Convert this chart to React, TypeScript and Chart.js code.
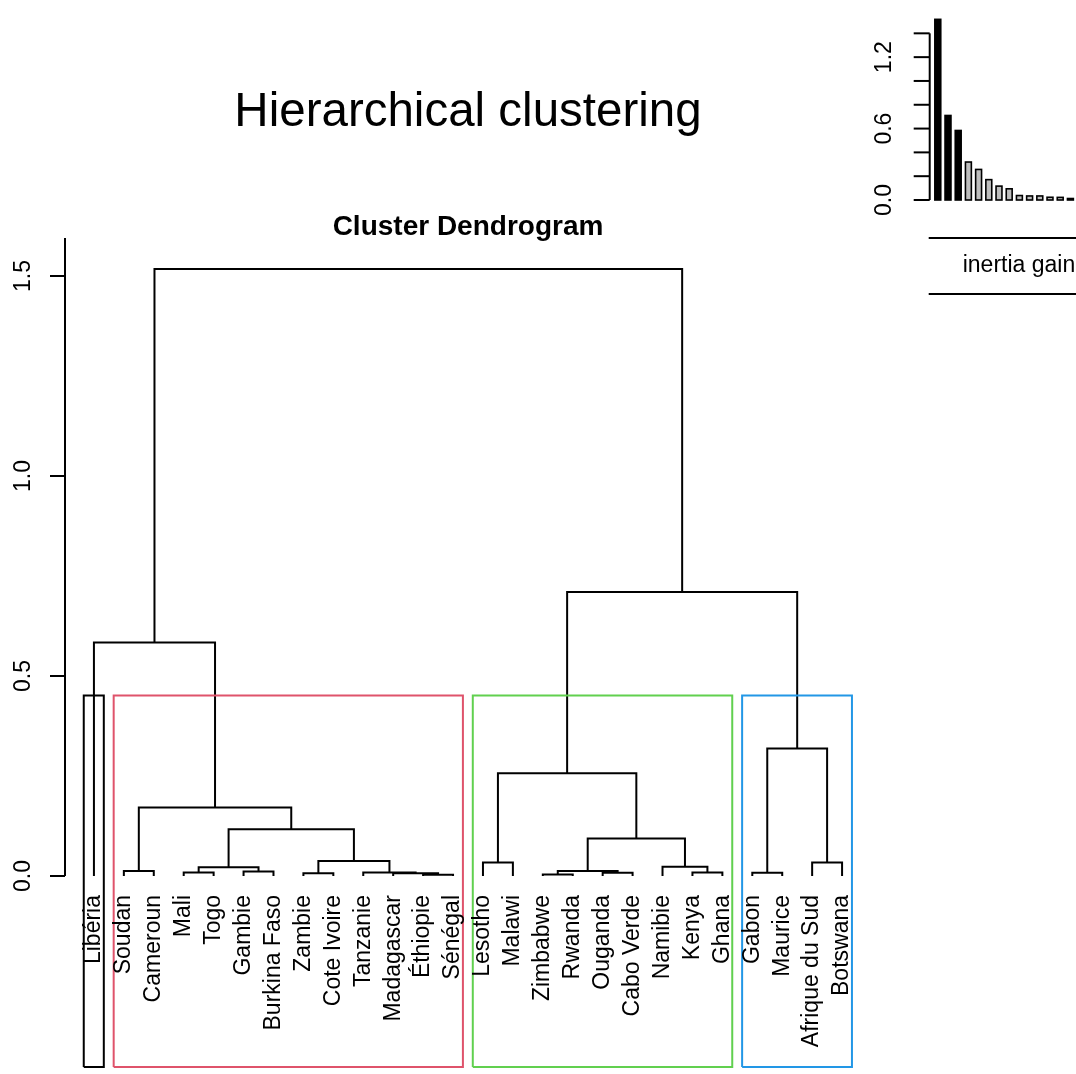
import React, { useEffect, useRef } from "react";
import { Chart, registerables } from "chart.js";

Chart.register(...registerables);

// ---------- data ----------
const leafLabels = [
  "Libéria", "Soudan", "Cameroun", "Mali", "Togo", "Gambie", "Burkina Faso",
  "Zambie", "Cote Ivoire", "Tanzanie", "Madagascar", "Éthiopie", "Sénégal",
  "Lesotho", "Malawi", "Zimbabwe", "Rwanda", "Ouganda", "Cabo Verde",
  "Namibie", "Kenya", "Ghana", "Gabon", "Maurice", "Afrique du Sud", "Botswana",
];

// R-style merge table: negative = leaf (1-based), positive = earlier merge (1-based)
const mergeLeft = [-12, -16, -11, -8, -18, -23, -4, -21, -10, -6, -2, 2, 7, -20, -14, -25, 4, 12, 13, 11, 15, 6, -1, 21, 23];
const mergeRight = [-13, -17, 1, -9, -19, -24, -5, -22, 3, -7, -3, 5, 10, 8, -15, -26, 9, 14, 17, 19, 18, 16, 20, 22, 24];
const mergeHeight = [
  0.003, 0.004, 0.0068, 0.0067, 0.008, 0.008, 0.0085, 0.009, 0.009, 0.011,
  0.0125, 0.0125, 0.022, 0.023, 0.034, 0.034, 0.0375, 0.094, 0.1167, 0.171,
  0.2567, 0.319, 0.584, 0.71, 1.5175,
];

const clusterFirstLeaf = [1, 2, 14, 23];
const clusterLastLeaf = [1, 13, 22, 26];
const clusterColors = ["#000000", "#DF536B", "#61D04F", "#2297E6"];

const yTicks = [0, 0.5, 1.0, 1.5];
const yTickLabels = ["0.0", "0.5", "1.0", "1.5"];

const inertiaGain = [
  1.5175, 0.71, 0.584, 0.319, 0.2567, 0.171, 0.1167, 0.094, 0.0375, 0.034,
  0.034, 0.023, 0.022, 0.0125, 0.0125, 0.011, 0.009, 0.009, 0.0085, 0.008,
  0.008, 0.0068, 0.0067, 0.004, 0.003,
];
const gainTicks = [0, 0.2, 0.4, 0.6, 0.8, 1.0, 1.2, 1.4];
const gainLabelValues = [0, 0.6, 1.2];
const gainLabelTexts = ["0.0", "0.6", "1.2"];

const mainTitle = "Hierarchical clustering";
const subTitle = "Cluster Dendrogram";
const gainTitle = "inertia gain";

// ---------- derived ----------
const mergeX: number[] = [];
function nodeOf(ref: number) {
  if (ref < 0) return { x: -ref, h: 0 };
  return { x: mergeX[ref - 1], h: mergeHeight[ref - 1] };
}
for (let m = 0; m < mergeHeight.length; m++) {
  const a = nodeOf(mergeLeft[m]);
  const b = nodeOf(mergeRight[m]);
  mergeX[m] = (a.x + b.x) / 2;
}

const Y_MIN = -0.4775;
const Y_MAX = 1.595;
const FONT = "'Liberation Sans', Arial, sans-serif";

export default function App() {
  const mainRef = useRef<HTMLCanvasElement>(null);
  const insetRef = useRef<HTMLCanvasElement>(null);

  useEffect(() => {
    const nClusters = clusterFirstLeaf.length;
    const sorted = [...mergeHeight].sort((a, b) => b - a);
    const rectTop = (sorted[nClusters - 2] + sorted[nClusters - 1]) / 2;

    const rectSets = clusterFirstLeaf.map((first, i) => {
      const l = first - 0.34;
      const r = clusterLastLeaf[i] + 0.33;
      return {
        data: [
          { x: l, y: Y_MIN }, { x: l, y: rectTop }, { x: r, y: rectTop },
          { x: r, y: Y_MIN }, { x: l, y: Y_MIN },
        ],
        borderColor: clusterColors[i],
        borderWidth: 2,
        showLine: true,
        pointRadius: 0,
        fill: false,
        clip: false as any,
      };
    });

    const mergeSets = mergeHeight.map((h, m) => {
      const a = nodeOf(mergeLeft[m]);
      const b = nodeOf(mergeRight[m]);
      return {
        data: [
          { x: a.x, y: a.h }, { x: a.x, y: h }, { x: b.x, y: h }, { x: b.x, y: b.h },
        ],
        borderColor: "#000000",
        borderWidth: 2,
        showLine: true,
        pointRadius: 0,
        fill: false,
        clip: false as any,
      };
    });

    const mainDecor = {
      id: "mainDecor",
      afterDatasetsDraw(chart: any) {
        const ctx = chart.ctx as CanvasRenderingContext2D;
        const xs = chart.scales.x;
        const ys = chart.scales.y;
        const area = chart.chartArea;
        ctx.save();
        ctx.fillStyle = "#000";
        ctx.strokeStyle = "#000";
        // leaf labels
        ctx.font = `23px ${FONT}`;
        const y0 = ys.getPixelForValue(0);
        leafLabels.forEach((lab, i) => {
          const px = xs.getPixelForValue(i + 1);
          ctx.save();
          ctx.translate(px, y0 + 19);
          ctx.rotate(-Math.PI / 2);
          ctx.textAlign = "right";
          ctx.textBaseline = "middle";
          ctx.fillText(lab, 0, 0);
          ctx.restore();
        });
        // y axis
        const ax = area.left + 1;
        ctx.lineWidth = 2;
        ctx.beginPath();
        ctx.moveTo(ax, ys.getPixelForValue(0));
        ctx.lineTo(ax, ys.getPixelForValue(Y_MAX));
        ctx.stroke();
        yTicks.forEach((t, i) => {
          const py = ys.getPixelForValue(t);
          ctx.beginPath();
          ctx.moveTo(ax - 15, py);
          ctx.lineTo(ax, py);
          ctx.stroke();
          ctx.save();
          ctx.translate(ax - 41, py);
          ctx.rotate(-Math.PI / 2);
          ctx.textAlign = "center";
          ctx.textBaseline = "middle";
          ctx.fillText(yTickLabels[i], 0, 0);
          ctx.restore();
        });
        // titles
        const cx = (area.left + area.right) / 2;
        ctx.textAlign = "center";
        ctx.textBaseline = "alphabetic";
        ctx.font = `47.5px ${FONT}`;
        ctx.fillText(mainTitle, cx, area.top - 112);
        ctx.font = `bold 28px ${FONT}`;
        ctx.fillText(subTitle, cx, area.top - 3);
        ctx.restore();
      },
    };

    const main = new Chart(mainRef.current!, {
      type: "scatter",
      data: { datasets: [...rectSets, ...mergeSets] as any },
      options: {
        animation: false,
        responsive: false,
        devicePixelRatio: 1,
        layout: { padding: { left: 64, right: 204, top: 238, bottom: 7 } },
        scales: {
          x: { type: "linear", min: 0, max: leafLabels.length + 1, display: false },
          y: { type: "linear", min: Y_MIN, max: Y_MAX, display: false },
        },
        plugins: { legend: { display: false }, tooltip: { enabled: false } },
        elements: { line: { tension: 0 } },
      },
      plugins: [mainDecor],
    });

    const insetDecor = {
      id: "insetDecor",
      afterDatasetsDraw(chart: any) {
        const ctx = chart.ctx as CanvasRenderingContext2D;
        const ys = chart.scales.y;
        const area = chart.chartArea;
        const ax = area.left - 3;
        ctx.save();
        ctx.strokeStyle = "#000";
        ctx.fillStyle = "#000";
        // bar outlines (R style: stroke centred on the bar edge)
        ctx.lineWidth = 1.6;
        const meta = chart.getDatasetMeta(0);
        meta.data.forEach((bar: any) => {
          const w = bar.width;
          ctx.strokeRect(bar.x - w / 2, bar.y, w, bar.base - bar.y);
        });
        ctx.lineWidth = 2;
        ctx.beginPath();
        ctx.moveTo(ax, ys.getPixelForValue(0));
        ctx.lineTo(ax, ys.getPixelForValue(gainTicks[gainTicks.length - 1]));
        ctx.stroke();
        gainTicks.forEach((t) => {
          const py = ys.getPixelForValue(t);
          ctx.beginPath();
          ctx.moveTo(ax - 16, py);
          ctx.lineTo(ax, py);
          ctx.stroke();
        });
        ctx.font = `23px ${FONT}`;
        gainLabelValues.forEach((v, i) => {
          const py = ys.getPixelForValue(v);
          ctx.save();
          ctx.translate(ax - 45, py);
          ctx.rotate(-Math.PI / 2);
          ctx.textAlign = "center";
          ctx.textBaseline = "middle";
          ctx.fillText(gainLabelTexts[i], 0, 0);
          ctx.restore();
        });
        // framed label
        const y0 = ys.getPixelForValue(0);
        ctx.beginPath();
        ctx.moveTo(ax - 1, y0 + 38);
        ctx.lineTo(chart.width, y0 + 38);
        ctx.moveTo(ax - 1, y0 + 94);
        ctx.lineTo(chart.width, y0 + 94);
        ctx.stroke();
        ctx.textAlign = "left";
        ctx.textBaseline = "middle";
        ctx.fillText(gainTitle, ax + 33, y0 + 66);
        ctx.restore();
      },
    };

    const nBlack = clusterFirstLeaf.length - 1;
    const inset = new Chart(insetRef.current!, {
      type: "bar",
      data: {
        labels: inertiaGain.map((_, i) => String(i + 1)),
        datasets: [
          {
            data: inertiaGain,
            backgroundColor: inertiaGain.map((_, i) => (i < nBlack ? "#000000" : "#BEBEBE")),
            borderWidth: 0,
            barPercentage: 0.58,
            categoryPercentage: 1,
          },
        ],
      },
      options: {
        animation: false,
        responsive: false,
        devicePixelRatio: 1,
        layout: { padding: { left: 72.7, right: 12.3, top: 0, bottom: 110 } },
        scales: {
          x: { display: false },
          y: { min: 0, max: 1.68, display: false },
        },
        plugins: { legend: { display: false }, tooltip: { enabled: false } },
      },
      plugins: [insetDecor],
    });

    return () => {
      main.destroy();
      inset.destroy();
    };
  }, []);

  return (
    <div style={{ position: "fixed", left: 0, top: 0, width: 1076, height: 1074, background: "#fff", overflow: "hidden" }}>
      <canvas ref={mainRef} width={1076} height={1074} style={{ position: "absolute", left: 0, top: 0, width: 1076, height: 1074 }} />
      <div style={{ position: "absolute", left: 860, top: 0, width: 216, height: 310, overflow: "hidden" }}>
        <canvas ref={insetRef} width={340} height={310} style={{ position: "absolute", left: 0, top: 0, width: 340, height: 310 }} />
      </div>
    </div>
  );
}
